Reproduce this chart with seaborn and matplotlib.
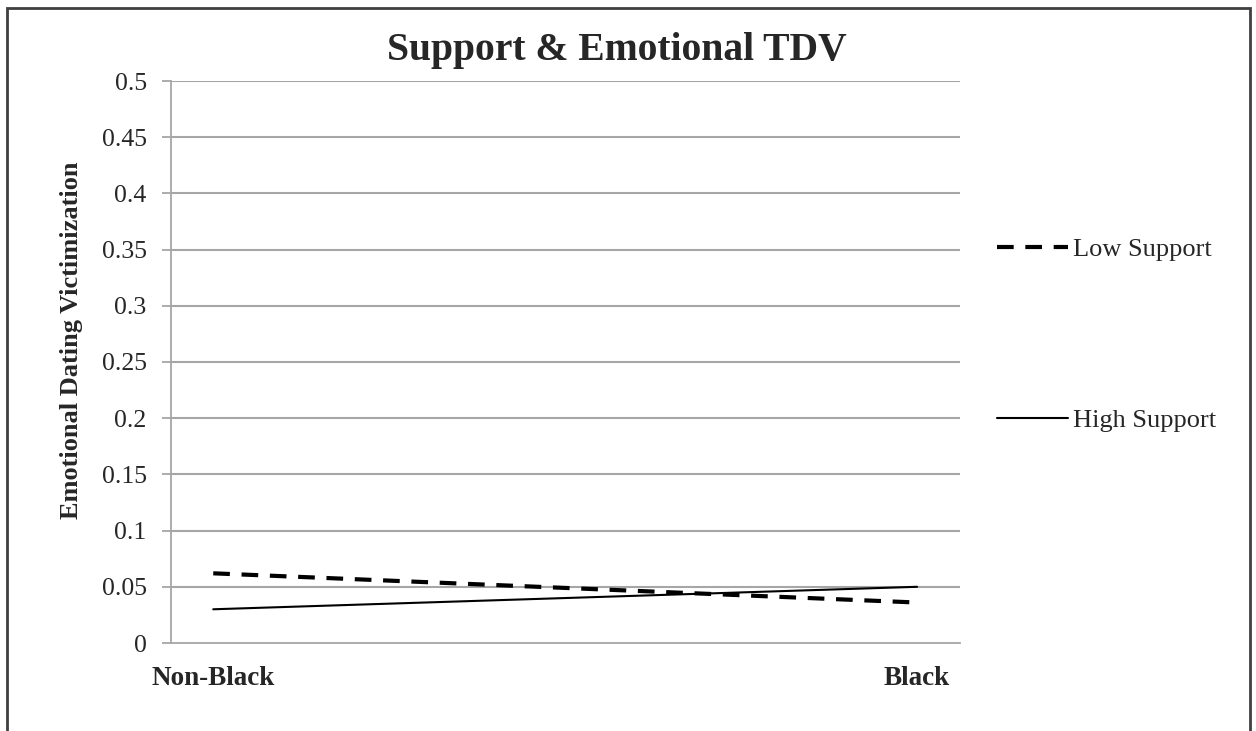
import matplotlib
matplotlib.use("Agg")
import matplotlib.pyplot as plt
import seaborn as sns
import pandas as pd
from matplotlib.patches import Rectangle

# --- data ---
groups = ["Non-Black", "Black"]
low_support = [0.062, 0.036]
high_support = [0.030, 0.050]
y_ticks = [0, 0.05, 0.1, 0.15, 0.2, 0.25, 0.3, 0.35, 0.4, 0.45, 0.5]

df = pd.DataFrame({
    "Group": groups * 2,
    "pos": [0, 1] * 2,
    "Value": low_support + high_support,
    "Support": ["Low Support"] * 2 + ["High Support"] * 2,
})

sns.set_style("white")
plt.rcParams["font.family"] = ["Liberation Serif", "DejaVu Serif"]

W, H = 1256, 731
fig = plt.figure(figsize=(W / 100, H / 100), dpi=100)
ax = fig.add_axes([171 / W, (H - 643) / H, 789 / W, 562 / H])

grey = "#a6a6a6"
for yv in y_ticks[1:]:
    ax.axhline(yv, color=grey, lw=1.3, zorder=0)

sns.lineplot(data=df, x="pos", y="Value", hue="Support", style="Support",
             palette={"Low Support": "black", "High Support": "black"},
             dashes={"Low Support": (4, 2.8), "High Support": ""},
             ax=ax, legend=False)
for ln in ax.lines:
    if ln.get_linestyle() == "-":
        ln.set_linewidth(1.5)
    else:
        ln.set_linewidth(3.0)

ax.set_xlim(-0.06, 1.061)
ax.set_ylim(0, 0.5)
ax.set_yticks(y_ticks)
ax.set_yticklabels([f"{v:g}" for v in y_ticks], fontsize=18.5)
ax.set_xticks([])
ax.set_xlabel("")
ax.set_ylabel("")

for side in ["top", "right"]:
    ax.spines[side].set_visible(False)
for side in ["left", "bottom"]:
    ax.spines[side].set_color(grey)
    ax.spines[side].set_linewidth(1.3)
ax.tick_params(axis="y", direction="out", length=6.5, width=1.3, color=grey, left=True, pad=11)

# category labels below the axis
for i, g in enumerate(groups):
    ax.text(i, -0.032, g, ha="center", va="center", fontsize=19.5, fontweight="bold",
            transform=ax.transData, clip_on=False)

fig.text(72 / W, 1 - 340 / H, "Emotional Dating Victimization", rotation=90,
         ha="center", va="center", fontsize=19, fontweight="bold")

fig.text(617 / W, 1 - 60 / H, "Support & Emotional TDV", ha="center", va="baseline",
         fontsize=28.5, fontweight="bold")

# legend drawn by hand to match layout
fig.lines.append(plt.Line2D([997 / W, 1068 / W], [1 - 247 / H] * 2,
                            transform=fig.transFigure, color="black", lw=3.0,
                            dashes=(4, 2.8)))
fig.lines.append(plt.Line2D([997 / W, 1068 / W], [1 - 418 / H] * 2,
                            transform=fig.transFigure, color="black", lw=1.5))
fig.text(1073 / W, 1 - 250 / H, "Low Support", fontsize=19, va="center")
fig.text(1073 / W, 1 - 421 / H, "High Support", fontsize=19, va="center")

# outer frame
fig.patches.append(Rectangle((7 / W, -0.05), 1243 / W, 1.05 - 8 / H,
                             transform=fig.transFigure, fill=False,
                             edgecolor="#404040", lw=2))

fig.savefig("out.png", dpi=100)
